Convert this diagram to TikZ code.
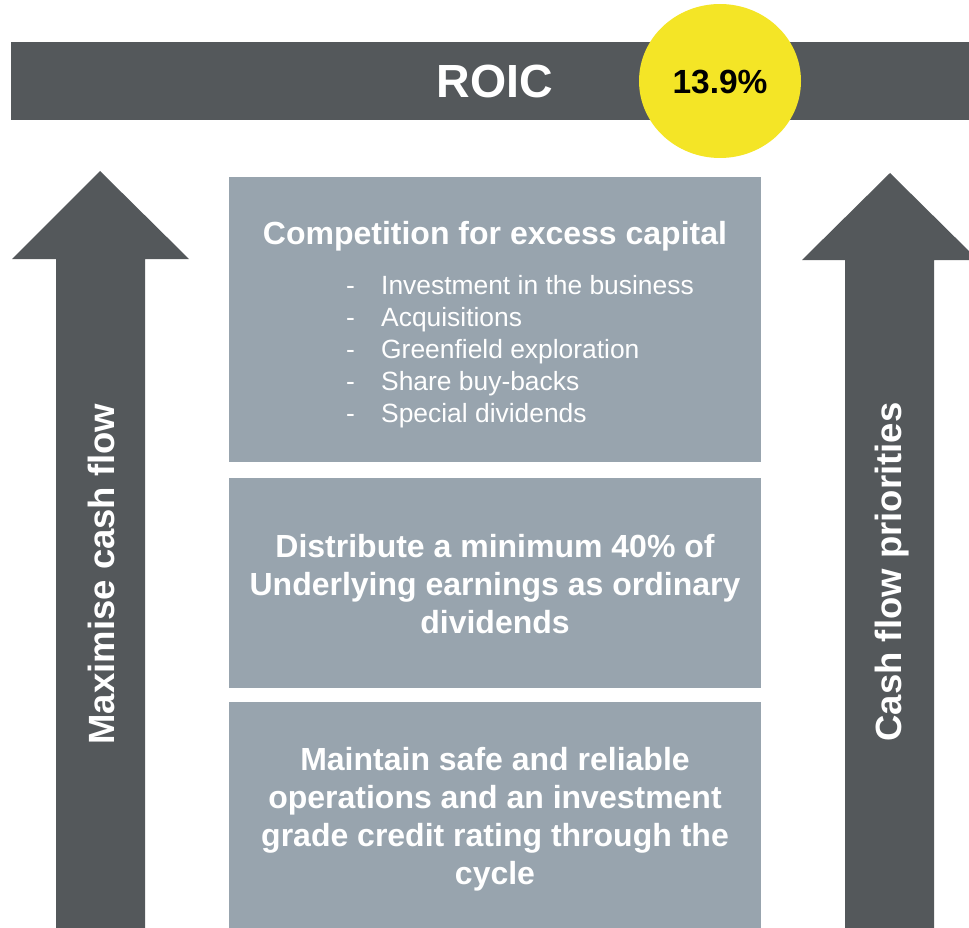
\documentclass[tikz,border=0pt]{standalone}
\usepackage{fontspec}
\setmainfont{Liberation Sans}
\usetikzlibrary{shapes.geometric}
\definecolor{roicdark}{RGB}{84,88,91}
\definecolor{boxgray}{RGB}{152,164,174}
\definecolor{roicyellow}{RGB}{244,229,38}
\begin{document}
\begin{tikzpicture}[x=1pt,y=-1pt,
  panel/.style={fill=boxgray, draw=none, anchor=north west, inner sep=0pt},
  headtext/.style={text=white, font=\bfseries\fontsize{32}{38}\selectfont, align=center},
  itemtext/.style={text=white, font=\fontsize{26.4}{32}\selectfont, anchor=base west, inner sep=0pt},
  sidetext/.style={text=white, font=\bfseries\fontsize{36.5}{40}\selectfont, rotate=90}]
\useasboundingbox (0,0) rectangle (969,928);
% top bar
\node[fill=roicdark, anchor=north west, inner sep=0pt, minimum width=958pt, minimum height=78pt] (bar) at (11,42) {};
\node[fill=roicyellow, ellipse, inner sep=0pt, minimum width=162pt, minimum height=154pt] (badge) at (720,81) {};
\node[text=white, font=\bfseries\fontsize{46.5}{50}\selectfont] (roic) at (495,81) {ROIC};
\node[text=black, font=\bfseries\fontsize{33.5}{36}\selectfont] (pct) at (720,82) {13.9\%};
% arrows
\fill[roicdark] (100,171) -- (189,259) -- (145,259) -- (145,928) -- (56,928) -- (56,259) -- (12,259) -- cycle;
\fill[roicdark] (890,173) -- (978,260) -- (934,260) -- (934,928) -- (845,928) -- (845,260) -- (802,260) -- cycle;
\node[sidetext] (lefttxt) at (101,574) {Maximise cash flow};
\node[sidetext] (righttxt) at (892,572) {Cash flow priorities};
% panels
\node[panel, minimum width=532pt, minimum height=285pt] (box1) at (229,177) {};
\node[panel, minimum width=532pt, minimum height=210pt] (box2) at (229,478) {};
\node[panel, minimum width=532pt, minimum height=226pt] (box3) at (229,702) {};
\node[headtext, anchor=base] (h1) at (495,244.5) {Competition for excess capital};
\foreach \t [count=\i] in {Investment in the business, Acquisitions, Greenfield exploration, Share buy-backs, Special dividends}{
  \node[itemtext] (dash\i) at (346,{294.5+32*(\i-1)}) {-};
  \node[itemtext] (item\i) at (381,{294.5+32*(\i-1)}) {\t};
}
\node[headtext] (h2) at (495,584) {Distribute a minimum 40\% of\\Underlying earnings as ordinary\\dividends};
\node[headtext] (h3) at (495,819.5) {Maintain safe and reliable\\operations and an investment\\grade credit rating through the\\cycle};
\end{tikzpicture}
\end{document}
